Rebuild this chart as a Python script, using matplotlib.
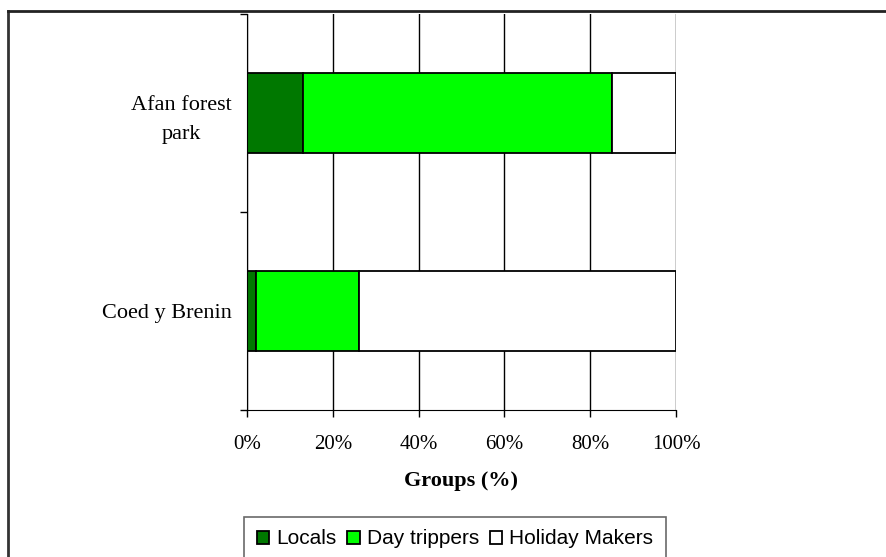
import matplotlib
matplotlib.use("Agg")
import matplotlib.pyplot as plt
from matplotlib.lines import Line2D
import numpy as np

categories = ["Coed y Brenin", "Afan forest\npark"]
series_names = ["Locals", "Day trippers", "Holiday Makers"]
locals_pct = [2, 13]
day_trippers_pct = [24, 72]
holiday_pct = [74, 15]
colors = ["#007800", "#00FF00", "#FFFFFF"]
xticks = [0, 20, 40, 60, 80, 100]
xtick_labels = ["0%", "20%", "40%", "60%", "80%", "100%"]

W, H = 887, 557
fig = plt.figure(figsize=(W / 100, H / 100), dpi=100)
ax = fig.add_axes([247 / W, 1 - 410 / H, (676 - 247) / W, (410 - 14) / H])

y = np.arange(len(categories))
left = np.zeros(len(categories))
for vals, name, c in zip([locals_pct, day_trippers_pct, holiday_pct], series_names, colors):
    ax.barh(y, vals, left=left, height=0.4, color=c, edgecolor="black",
            linewidth=1.3, label=name, zorder=3)
    left = left + np.array(vals)

ax.set_xlim(0, 100)
ax.set_ylim(-0.5, 1.5)
ax.set_xticks(xticks)
ax.set_xticklabels(xtick_labels, fontfamily="Liberation Serif", fontsize=15)
ax.set_yticks(y)
ax.set_yticklabels(categories, fontfamily="Liberation Serif", fontsize=16,
                   multialignment="center", linespacing=1.65)
ax.tick_params(axis="y", which="major", length=0, pad=11)
ax.set_yticks([-0.5, 0.5, 1.5], minor=True)
ax.tick_params(axis="y", which="minor", length=5, width=1, color="black", direction="out")
ax.tick_params(axis="x", which="major", length=5, width=1, color="black", direction="out", pad=13)

ax.grid(axis="x", color="black", linewidth=1, zorder=0)
ax.set_axisbelow(True)
for s in ["top", "right"]:
    ax.spines[s].set_visible(False)
ax.spines["left"].set_color("black")
ax.spines["bottom"].set_color("black")
ax.spines["left"].set_zorder(4)

ax.set_xlabel("Groups (%)", fontfamily="Liberation Serif", fontsize=16,
              fontweight="bold", labelpad=12)

leg = fig.legend(loc="upper center", bbox_to_anchor=(455 / W, 1 - 517 / H), ncol=3,
                 prop={"family": "Liberation Sans", "size": 15},
                 frameon=True, fancybox=False, edgecolor="#444444",
                 handlelength=0.6, handleheight=0.6, handletextpad=0.35,
                 columnspacing=0.5, borderpad=0.6, borderaxespad=0)
leg.get_frame().set_linewidth(1.2)

# outer frame (chart area border)
fig.add_artist(Line2D([8 / W, 8 / W], [-0.05, 1 - 11 / H], transform=fig.transFigure,
                      color="#333333", linewidth=2))
fig.add_artist(Line2D([8 / W, 1.05], [1 - 11 / H, 1 - 11 / H], transform=fig.transFigure,
                      color="#222222", linewidth=2))

fig.savefig("out.png", dpi=100)
